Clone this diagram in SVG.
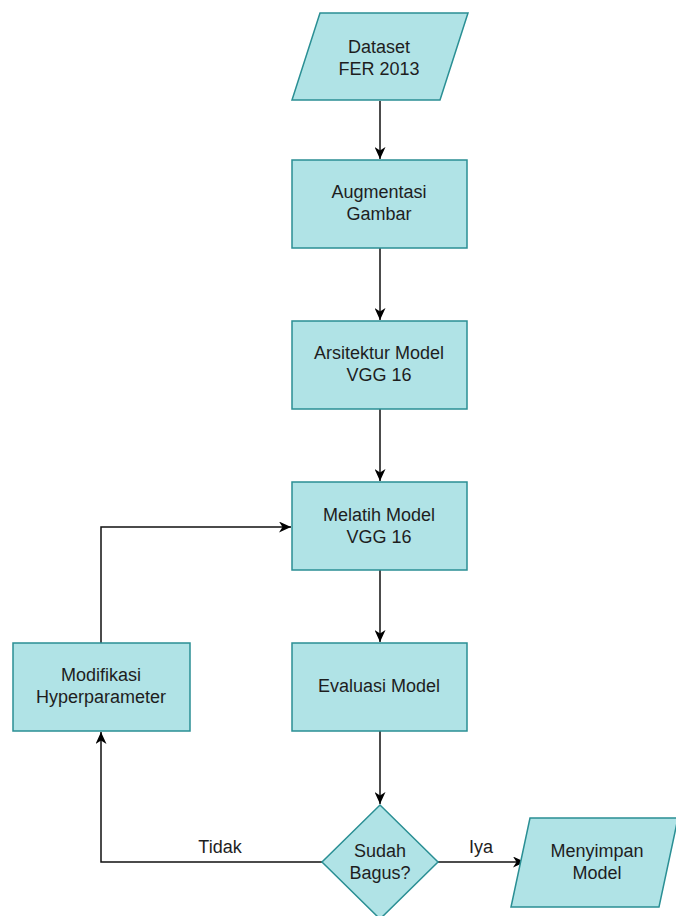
<svg xmlns="http://www.w3.org/2000/svg" width="676" height="916" viewBox="0 0 676 916">
  <defs>
    <marker id="arrow" viewBox="0 0 12 11" refX="12" refY="5.5" markerWidth="12" markerHeight="11" markerUnits="userSpaceOnUse" orient="auto">
      <path d="M0,0 L12,5.5 L0,11 L3.5,5.5 Z" fill="#000"/>
    </marker>
    <style>
      .node { fill: #b0e3e6; stroke: #2a8f94; stroke-width: 1.5; }
      .label { font-family: "Liberation Sans", Arial, sans-serif; font-size: 18px; fill: #1e1e1e; text-anchor: middle; }
      .edge { fill: none; stroke: #111; stroke-width: 1.5; marker-end: url(#arrow); }
    </style>
  </defs>
  <rect width="676" height="916" fill="#fff"/>

  <g id="connectors">
    <path class="edge" d="M380,101 L380,159"/>
    <path class="edge" d="M380,248 L380,320"/>
    <path class="edge" d="M380,409 L380,481"/>
    <path class="edge" d="M380,570 L380,642"/>
    <path class="edge" d="M380,731 L380,804"/>
    <path class="edge" d="M101,643 L101,527 L291,527"/>
    <path class="edge" d="M322,862 L101,862 L101,732"/>
    <path class="edge" d="M438,862 L525,862"/>
    <text class="label" x="220" y="853">Tidak</text>
    <text class="label" x="481" y="853">Iya</text>
  </g>

  <g id="dataset">
    <polygon class="node" points="320,13 468,13 440,100 292,100"/>
    <text class="label" x="379" y="53">Dataset</text>
    <text class="label" x="379" y="75">FER 2013</text>
  </g>

  <g id="augmentasi">
    <rect class="node" x="292" y="160" width="175" height="88"/>
    <text class="label" x="379" y="198">Augmentasi</text>
    <text class="label" x="379" y="220">Gambar</text>
  </g>

  <g id="arsitektur">
    <rect class="node" x="292" y="321" width="175" height="88"/>
    <text class="label" x="379" y="359">Arsitektur Model</text>
    <text class="label" x="379" y="381">VGG 16</text>
  </g>

  <g id="melatih">
    <rect class="node" x="292" y="482" width="175" height="88"/>
    <text class="label" x="379" y="521">Melatih Model</text>
    <text class="label" x="379" y="543">VGG 16</text>
  </g>

  <g id="evaluasi">
    <rect class="node" x="292" y="643" width="175" height="88"/>
    <text class="label" x="379" y="692">Evaluasi Model</text>
  </g>

  <g id="modifikasi">
    <rect class="node" x="13" y="643" width="177" height="88"/>
    <text class="label" x="101" y="681">Modifikasi</text>
    <text class="label" x="101" y="703">Hyperparameter</text>
  </g>

  <g id="keputusan">
    <polygon class="node" points="380,805 438,862 380,919 322,862"/>
    <text class="label" x="380" y="857">Sudah</text>
    <text class="label" x="380" y="879">Bagus?</text>
  </g>

  <g id="menyimpan">
    <polygon class="node" points="530,818 678,818 659,907 511,907"/>
    <text class="label" x="597" y="857">Menyimpan</text>
    <text class="label" x="597" y="879">Model</text>
  </g>
</svg>
